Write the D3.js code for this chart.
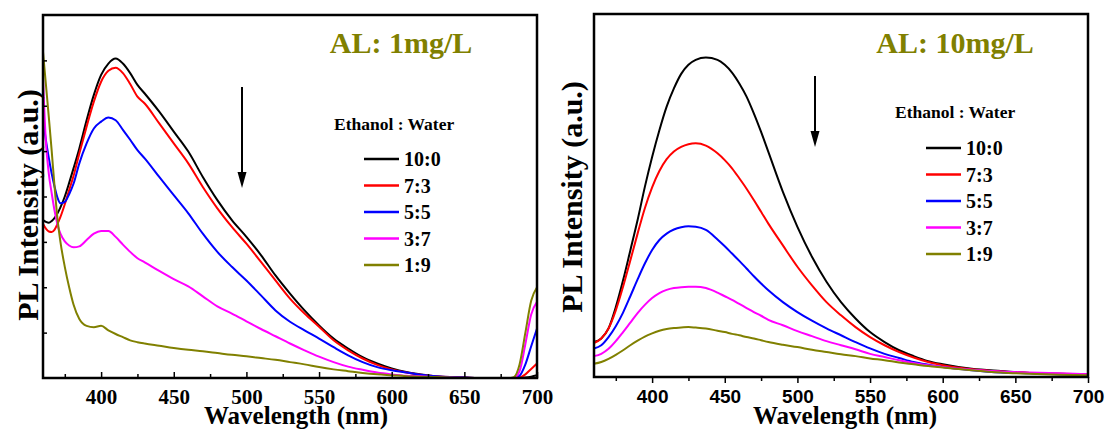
<!DOCTYPE html>
<html>
<head>
<meta charset="utf-8">
<script src="https://cdnjs.cloudflare.com/ajax/libs/d3/7.8.5/d3.min.js"></script>
<style>
    body { margin: 0; background: #fff; }
    .serif { font-family: "Liberation Serif", "Times New Roman", serif; font-weight: bold; }
    .sans { font-family: "Liberation Sans", Arial, sans-serif; font-weight: bold; }
</style>
</head>
<body>
<div id="plot"></div>
<script>
// Legend labels and colours
var ratios = ["10:0", "7:3", "5:5", "3:7", "1:9"];
var colors = ["#000000", "#ff0000", "#0000ff", "#ff00ff", "#808000"];

// Left panel (AL: 1mg/L) wavelengths and intensities (a.u.)
var waveLeft = [360, 362, 364, 366, 368, 370, 372, 375, 378, 381, 385, 390, 395, 400, 405, 410, 415, 420, 425, 430,
    440, 450, 460, 470, 480, 490, 500, 510, 520, 530, 540, 550, 560, 570, 580, 590, 600, 610, 620, 630,
    640, 650, 660, 670, 680, 684, 688, 692, 696, 700];
var left10_0 = [3.48, 3.44, 3.42, 3.46, 3.53, 3.63, 3.76, 4.0, 4.3, 4.62, 5.06, 5.68, 6.24, 6.68, 6.93, 7.04, 6.93, 6.72, 6.46, 6.27,
    5.87, 5.43, 4.99, 4.43, 3.92, 3.48, 3.11, 2.71, 2.26, 1.86, 1.49, 1.16, 0.87, 0.65, 0.46, 0.32, 0.21, 0.13, 0.08, 0.04,
    0.02, 0.01, 0, 0, 0, 0, 0, 0.01, 0.03, 0.06];
var left7_3 = [3.40, 3.29, 3.23, 3.22, 3.27, 3.4, 3.55, 3.83, 4.14, 4.45, 4.95, 5.54, 6.09, 6.53, 6.77, 6.84, 6.72, 6.48, 6.2, 6.05,
    5.61, 5.17, 4.73, 4.21, 3.74, 3.33, 2.96, 2.56, 2.15, 1.75, 1.42, 1.13, 0.83, 0.61, 0.43, 0.29, 0.19, 0.12, 0.07, 0.04,
    0.02, 0.01, 0, 0, 0, 0, 0.01, 0.08, 0.2, 0.32];
var left5_5 = [5.72, 5.24, 4.85, 4.5, 4.21, 3.97, 3.85, 3.88, 4.05, 4.28, 4.73, 5.17, 5.5, 5.65, 5.74, 5.68, 5.47, 5.25, 5.02, 4.84,
    4.43, 4.03, 3.63, 3.18, 2.78, 2.45, 2.15, 1.82, 1.49, 1.24, 1.05, 0.87, 0.68, 0.5, 0.35, 0.24, 0.17, 0.12, 0.07, 0.04,
    0.02, 0.01, 0, 0, 0, 0, 0.05, 0.3, 0.7, 1.09];
var left3_7 = [6.6, 5.2, 4.5, 4.07, 3.68, 3.38, 3.18, 3.01, 2.92, 2.88, 2.9, 3.04, 3.18, 3.24, 3.24, 3.11, 2.94, 2.78, 2.64, 2.55,
    2.36, 2.18, 2.02, 1.8, 1.58, 1.42, 1.25, 1.08, 0.92, 0.76, 0.61, 0.47, 0.35, 0.25, 0.18, 0.12, 0.08, 0.05, 0.04, 0.02,
    0.01, 0, 0, 0, 0, 0, 0.15, 0.75, 1.4, 1.68];
var left1_9 = [7.19, 6.47, 5.75, 5.0, 4.2, 3.5, 3.0, 2.45, 2.0, 1.62, 1.3, 1.15, 1.12, 1.15, 1.05, 0.97, 0.9, 0.83, 0.79, 0.76,
    0.71, 0.66, 0.62, 0.59, 0.55, 0.51, 0.48, 0.44, 0.4, 0.35, 0.3, 0.24, 0.19, 0.15, 0.11, 0.08, 0.06, 0.04, 0.03, 0.02,
    0.01, 0, 0, 0, 0, 0.02, 0.3, 1.0, 1.7, 2.0];

// Right panel (AL: 10mg/L) wavelengths and intensities (a.u.)
var waveRight = [360, 365, 370, 375, 380, 385, 390, 395, 400, 405, 410, 415, 420, 425, 430, 437, 445, 450, 455, 460,
    465, 470, 475, 480, 490, 500, 510, 520, 530, 540, 550, 560, 570, 580, 590, 600, 620, 640, 660, 680, 700];
var right10_0 = [0.77, 0.85, 1.07, 1.54, 2.13, 2.79, 3.46, 4.19, 4.85, 5.44, 5.96, 6.36, 6.68, 6.88, 6.99, 7.04, 6.99, 6.88, 6.71, 6.47,
    6.18, 5.81, 5.4, 4.96, 4.08, 3.31, 2.65, 2.1, 1.65, 1.29, 0.99, 0.77, 0.59, 0.46, 0.35, 0.28, 0.18, 0.13, 0.09, 0.07, 0.05];
var right7_3 = [0.75, 0.85, 1.07, 1.47, 1.99, 2.57, 3.16, 3.72, 4.18, 4.54, 4.8, 4.97, 5.07, 5.13, 5.15, 5.1, 4.93, 4.78, 4.6, 4.38,
    4.15, 3.9, 3.64, 3.38, 2.9, 2.43, 2.02, 1.65, 1.36, 1.1, 0.88, 0.7, 0.55, 0.43, 0.33, 0.26, 0.17, 0.12, 0.09, 0.07, 0.06];
var right5_5 = [0.63, 0.7, 0.88, 1.12, 1.42, 1.78, 2.15, 2.5, 2.8, 3.02, 3.16, 3.25, 3.3, 3.32, 3.31, 3.24, 3.03, 2.88, 2.72, 2.56,
    2.39, 2.22, 2.06, 1.91, 1.65, 1.43, 1.24, 1.07, 0.92, 0.77, 0.63, 0.51, 0.42, 0.33, 0.27, 0.22, 0.15, 0.1, 0.08, 0.06, 0.05];
var right3_7 = [0.46, 0.51, 0.62, 0.79, 0.99, 1.2, 1.41, 1.59, 1.74, 1.85, 1.92, 1.96, 1.98, 1.99, 1.99, 1.96, 1.86, 1.78, 1.7, 1.61,
    1.52, 1.43, 1.35, 1.26, 1.14, 1.01, 0.9, 0.79, 0.7, 0.61, 0.51, 0.44, 0.37, 0.31, 0.26, 0.22, 0.16, 0.12, 0.1, 0.08, 0.06];
var right1_9 = [0.29, 0.33, 0.4, 0.49, 0.59, 0.7, 0.8, 0.89, 0.96, 1.02, 1.06, 1.08, 1.09, 1.1, 1.09, 1.07, 1.02, 0.99, 0.95, 0.92,
    0.88, 0.85, 0.81, 0.77, 0.71, 0.66, 0.6, 0.55, 0.5, 0.46, 0.41, 0.37, 0.32, 0.28, 0.24, 0.21, 0.15, 0.1, 0.07, 0.05, 0.04];

// Tick values
var majorTicks = [400, 450, 500, 550, 600, 650, 700];
var minorTicks = [375, 425, 475, 525, 575, 625, 675];
var yTicks = [1, 2, 3, 4, 5, 6, 7];

var svgWidth = 1107;
var svgHeight = 432;

var svg = d3.select("#plot")
    .append("svg")
    .attr("width", svgWidth)
    .attr("height", svgHeight);

var panels = [
    {
        title: "AL: 1mg/L", waves: waveLeft, series: [left10_0, left7_3, left5_5, left3_7, left1_9],
        left: 43, right: 537, top: 15, bottom: 378, tickFont: "serif", tickDir: -1, yTicks: true,
        titleX: 401, arrowX: 242, arrowTop: 87, arrowBottom: 188,
        legX: 334, legY: 130, rowX: 364, rowY: 159, xTitleX: 296, yTitleX: 27, yTitleY: 205
    },
    {
        title: "AL: 10mg/L", waves: waveRight, series: [right10_0, right7_3, right5_5, right3_7, right1_9],
        left: 594, right: 1088, top: 14, bottom: 377, tickFont: "sans", tickDir: 1, yTicks: false,
        titleX: 955, arrowX: 815, arrowTop: 76, arrowBottom: 147,
        legX: 895, legY: 118, rowX: 926, rowY: 148, xTitleX: 845, yTitleX: 571, yTitleY: 197
    }
];

panels.forEach(function (p) {
    var x = d3.scaleLinear().domain([360, 700]).range([p.left, p.right]);
    var y = d3.scaleLinear().domain([0, 8]).range([p.bottom, p.top]);

    var g = svg.append("g");

    // Curves
    var line = d3.line()
        .x(d => x(d[0]))
        .y(d => y(d[1]))
        .curve(d3.curveMonotoneX);

    p.series.forEach(function (vals, i) {
        var pts = p.waves.map((w, j) => [w, vals[j]]);
        g.append("path")
            .datum(pts)
            .attr("d", line)
            .attr("fill", "none")
            .attr("stroke", colors[i])
            .attr("stroke-width", 2);
    });

    // Bottom axis: major ticks with labels, minor ticks without
    var major = g.append("g")
        .attr("transform", `translate(0, ${p.bottom})`)
        .call(d3.axisBottom(x).tickValues(majorTicks).tickSize(6 * p.tickDir).tickFormat(d3.format("d")));
    major.select(".domain").remove();
    major.selectAll("line").attr("stroke-width", 1.5);
    major.selectAll("text")
        .attr("class", p.tickFont)
        .attr("y", 19)
        .attr("dy", "0.35em")
        .attr("fill", "#000")
        .style("font-size", p.tickFont == "serif" ? "21px" : "19px");

    var minor = g.append("g")
        .attr("transform", `translate(0, ${p.bottom})`)
        .call(d3.axisBottom(x).tickValues(minorTicks).tickSize(4 * p.tickDir).tickFormat(""));
    minor.select(".domain").remove();
    minor.selectAll("line").attr("stroke-width", 1.5);

    // Left axis ticks (inside)
    if (p.yTicks) {
        var yAxis = g.append("g")
            .attr("transform", `translate(${p.left}, 0)`)
            .call(d3.axisLeft(y).tickValues(yTicks).tickSize(-4).tickFormat(""));
        yAxis.select(".domain").remove();
        yAxis.selectAll("line").attr("stroke-width", 1.5);
    }

    // Frame
    g.append("rect")
        .attr("x", p.left)
        .attr("y", p.top)
        .attr("width", p.right - p.left)
        .attr("height", p.bottom - p.top)
        .attr("fill", "none")
        .attr("stroke", "#000")
        .attr("stroke-width", 2.5);

    // Panel title
    g.append("text")
        .attr("class", "serif")
        .attr("x", p.titleX)
        .attr("y", 53)
        .attr("text-anchor", "middle")
        .attr("fill", "#808000")
        .style("font-size", "30px")
        .text(p.title);

    // Arrow
    g.append("line")
        .attr("x1", p.arrowX).attr("x2", p.arrowX)
        .attr("y1", p.arrowTop).attr("y2", p.arrowBottom - 10)
        .attr("stroke", "#000")
        .attr("stroke-width", 2);
    g.append("path")
        .attr("d", `M${p.arrowX - 4.5},${p.arrowBottom - 16} L${p.arrowX + 4.5},${p.arrowBottom - 16} L${p.arrowX},${p.arrowBottom} Z`)
        .attr("fill", "#000");

    // Legend
    g.append("text")
        .attr("class", "serif")
        .attr("x", p.legX)
        .attr("y", p.legY)
        .style("font-size", "17.5px")
        .text("Ethanol : Water");

    ratios.forEach(function (r, i) {
        var ry = p.rowY + i * 26.5;
        g.append("line")
            .attr("x1", p.rowX).attr("x2", p.rowX + 35)
            .attr("y1", ry).attr("y2", ry)
            .attr("stroke", colors[i])
            .attr("stroke-width", 2.5);
        g.append("text")
            .attr("class", "serif")
            .attr("x", p.rowX + 40)
            .attr("y", ry)
            .attr("dy", "0.35em")
            .style("font-size", "20px")
            .text(r);
    });

    // Axis titles
    g.append("text")
        .attr("class", "serif")
        .attr("x", p.xTitleX)
        .attr("y", 424)
        .attr("text-anchor", "middle")
        .style("font-size", "25px")
        .text("Wavelength (nm)");

    g.append("text")
        .attr("class", "serif")
        .attr("transform", `translate(${p.yTitleX}, ${p.yTitleY}) rotate(-90)`)
        .attr("text-anchor", "middle")
        .attr("dy", "0.35em")
        .style("font-size", "30px")
        .text("PL Intensity (a.u.)");
});
</script>
</body>
</html>
